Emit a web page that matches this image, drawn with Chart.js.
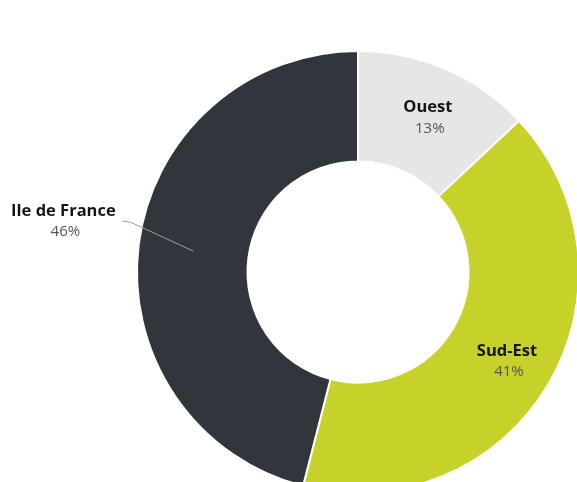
<!DOCTYPE html>
<html>
<head>
<meta charset="utf-8">
<script src="https://cdn.jsdelivr.net/npm/chart.js@4/dist/chart.umd.min.js"></script>
<style>
    html, body { margin: 0; padding: 0; background: #fff; overflow: hidden; }
    #wrap { position: absolute; left: 0; top: 0; width: 716px; height: 544px; }
</style>
</head>
<body>
<div id="wrap"><canvas id="regionChart"></canvas></div>
<script>
// Chart data
var regions = ['Ouest', 'Sud-Est', 'Ile de France'];
var shares = [13, 41, 46];
var sliceColors = ['#e6e6e6', '#c6d22a', '#30363b'];
var outsideLabels = [false, false, true];

// Draw labels in the ring, or outside with a leader line
var sliceLabels = {
    id: 'sliceLabels',
    afterDatasetsDraw: function(chart) {
        var ctx = chart.ctx;
        var arcs = chart.getDatasetMeta(0).data;
        ctx.save();
        for (var i = 0; i < arcs.length; i++) {
            var a = arcs[i];
            var mid = (a.startAngle + a.endAngle) / 2;
            var ringR = (a.innerRadius + a.outerRadius) / 2 + 5;
            var x, y;
            if (outsideLabels[i]) {
                var x0 = a.x + Math.cos(mid) * (ringR - 5);
                var y0 = a.y + Math.sin(mid) * (ringR - 5);
                var x1 = a.x + Math.cos(mid + 0.09) * (a.outerRadius + 12);
                var y1 = a.y + Math.sin(mid + 0.09) * (a.outerRadius + 12);
                ctx.strokeStyle = '#9aa0a4';
                ctx.lineWidth = 1;
                ctx.beginPath();
                ctx.moveTo(x0, y0);
                ctx.lineTo(x1, y1);
                ctx.lineTo(x1 - 8, y1 - 1);
                ctx.stroke();
                x = x1 - 67;
                y = y1 - 1;
            } else {
                x = a.x + Math.cos(mid) * ringR + 2;
                y = a.y + Math.sin(mid) * ringR + 2;
            }
            ctx.textAlign = 'center';
            ctx.textBaseline = 'middle';
            ctx.fillStyle = '#151515';
            ctx.font = 'bold 16.5px "Open Sans", sans-serif';
            ctx.fillText(regions[i], x, y - 10);
            ctx.fillStyle = '#555';
            ctx.font = '15px "Open Sans", sans-serif';
            ctx.fillText(shares[i] + '%', x + 2, y + 11);
        }
        ctx.restore();
    }
};

var ctx = document.getElementById('regionChart').getContext('2d');
new Chart(ctx, {
    type: 'doughnut',
    data: {
        labels: regions,
        datasets: [{
            data: shares,
            backgroundColor: sliceColors,
            borderColor: '#ffffff',
            borderWidth: 2,
            hoverOffset: 0
        }]
    },
    options: {
        responsive: true,
        maintainAspectRatio: false,
        animation: false,
        cutout: '50%',
        layout: { padding: 50 },
        plugins: {
            legend: { display: false },
            tooltip: { enabled: false }
        }
    },
    plugins: [sliceLabels]
});
</script>
</body>
</html>
